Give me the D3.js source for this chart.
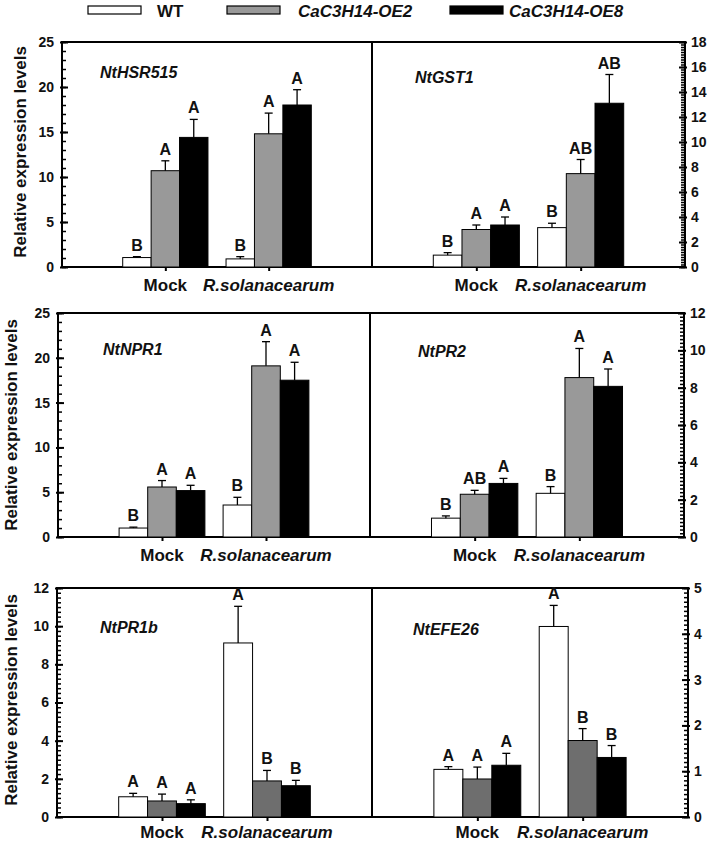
<!DOCTYPE html>
<html><head><meta charset="utf-8">
<script src="https://cdn.jsdelivr.net/npm/d3@7"></script>
<style>
body{margin:0;background:#fff}
text{font-family:Arial,"Liberation Sans",sans-serif;font-weight:bold;fill:#111}
</style>
</head><body><svg id="c" width="709" height="843"></svg>
<script>
// ---------- data ----------
const groups = ["Mock", "R.solanacearum"];
const seriesNames = ["WT", "CaC3H14-OE2", "CaC3H14-OE8"];
const genes = ["NtHSR515", "NtGST1", "NtNPR1", "NtPR2", "NtPR1b", "NtEFE26"];
// order inside each array: Mock WT, Mock OE2, Mock OE8, R WT, R OE2, R OE8
const hsr515Mean = [1.05, 10.7, 14.4, 0.9, 14.8, 18.0];
const hsr515Err  = [0.1, 1.1, 2.0, 0.25, 2.3, 1.7];
const hsr515Sig  = ["B", "A", "A", "B", "A", "A"];
const gst1Mean = [0.95, 3.0, 3.36, 3.15, 7.47, 13.1];
const gst1Err  = [0.2, 0.36, 0.64, 0.35, 1.13, 2.3];
const gst1Sig  = ["B", "A", "A", "B", "AB", "AB"];
const npr1Mean = [1.0, 5.58, 5.18, 3.57, 19.1, 17.5];
const npr1Err  = [0.1, 0.72, 0.59, 0.86, 2.7, 2.0];
const npr1Sig  = ["B", "A", "A", "B", "A", "A"];
const pr2Mean = [1.01, 2.29, 2.87, 2.34, 8.54, 8.07];
const pr2Err  = [0.12, 0.21, 0.27, 0.36, 1.56, 0.93];
const pr2Sig  = ["B", "AB", "A", "B", "A", "A"];
const pr1bMean = [1.06, 0.84, 0.70, 9.12, 1.89, 1.64];
const pr1bErr  = [0.18, 0.36, 0.2, 1.92, 0.55, 0.28];
const pr1bSig  = ["A", "A", "A", "A", "B", "B"];
const efe26Mean = [1.04, 0.83, 1.13, 4.16, 1.67, 1.30];
const efe26Err  = [0.06, 0.26, 0.26, 0.46, 0.26, 0.26];
const efe26Sig  = ["A", "A", "A", "A", "B", "B"];
// axis ticks
const ticks25 = [0, 5, 10, 15, 20, 25];
const ticks18 = [0, 2, 4, 6, 8, 10, 12, 14, 16, 18];
const ticks12 = [0, 2, 4, 6, 8, 10, 12];
const ticks5  = [0, 1, 2, 3, 4, 5];
const yTitle = "Relative expression levels";

// ---------- layout ----------
const svg = d3.select("#c");
const rows = [
  {top: 42, bottom: 267, left: 62, mid: 372, right: 685, titleX: 26, titleY: 152, oe2: "#999999", labDy: 24},
  {top: 313, bottom: 537, left: 58, mid: 370, right: 684, titleX: 17, titleY: 425, oe2: "#999999", labDy: 24},
  {top: 588, bottom: 817, left: 57, mid: 372, right: 688, titleX: 17, titleY: 700, oe2: "#6e6e6e", labDy: 21}
];
const panels = [
  {row: 0, side: "L", gene: genes[0], mean: hsr515Mean, err: hsr515Err, sig: hsr515Sig, max: 25, ticks: ticks25, minor: 1, lx: 100, ly: 78},
  {row: 0, side: "R", gene: genes[1], mean: gst1Mean, err: gst1Err, sig: gst1Sig, max: 18, ticks: ticks18, minor: 0.2, lx: 415, ly: 83},
  {row: 1, side: "L", gene: genes[2], mean: npr1Mean, err: npr1Err, sig: npr1Sig, max: 25, ticks: ticks25, minor: 1, lx: 103, ly: 355},
  {row: 1, side: "R", gene: genes[3], mean: pr2Mean, err: pr2Err, sig: pr2Sig, max: 12, ticks: ticks12, minor: 0.2, lx: 418, ly: 357},
  {row: 2, side: "L", gene: genes[4], mean: pr1bMean, err: pr1bErr, sig: pr1bSig, max: 12, ticks: ticks12, minor: 0.25, lx: 100, ly: 633},
  {row: 2, side: "R", gene: genes[5], mean: efe26Mean, err: efe26Err, sig: efe26Sig, max: 5, ticks: ticks5, minor: 0.1, lx: 413, ly: 635}
];

// ---------- legend ----------
const legendItems = [
  {name: seriesNames[0], fill: "#ffffff", bx: 88, tx: 157, italic: false},
  {name: seriesNames[1], fill: "#999999", bx: 227, tx: 298, italic: true},
  {name: seriesNames[2], fill: "#000000", bx: 450, tx: 509, italic: true}
];
const lg = svg.append("g");
legendItems.forEach(d => {
  lg.append("rect").attr("x", d.bx).attr("y", 6).attr("width", 53).attr("height", 8)
    .attr("fill", d.fill).attr("stroke", "#000").attr("stroke-width", 1.2);
  lg.append("text").attr("x", d.tx).attr("y", 17).attr("font-size", 17)
    .attr("font-style", d.italic ? "italic" : "normal").text(d.name);
});

// ---------- frames and titles ----------
rows.forEach(r => {
  svg.append("rect").attr("x", r.left).attr("y", r.top).attr("width", r.right - r.left)
    .attr("height", r.bottom - r.top).attr("fill", "none").attr("stroke", "#000").attr("stroke-width", 2);
  svg.append("line").attr("x1", r.mid).attr("x2", r.mid).attr("y1", r.top).attr("y2", r.bottom)
    .attr("stroke", "#000").attr("stroke-width", 2);
  svg.append("text").attr("transform", `translate(${r.titleX},${r.titleY}) rotate(-90)`)
    .attr("text-anchor", "middle").attr("font-size", 17).text(yTitle);
});

// ---------- panels ----------
panels.forEach(p => {
  const r = rows[p.row];
  const x0 = p.side === "L" ? r.left : r.mid;
  const x1 = p.side === "L" ? r.mid : r.right;
  const g = svg.append("g");
  const x = d3.scalePoint().domain(groups).range([x0, x1]).padding(1);
  const bw = x.step() * 0.275;
  const xs = d3.scaleBand().domain(seriesNames).range([-1.5 * bw, 1.5 * bw]);
  const y = d3.scaleLinear().domain([0, p.max]).range([r.bottom, r.top]);
  const colors = d3.scaleOrdinal().domain(seriesNames).range(["#ffffff", r.oe2, "#000000"]);

  const data = [];
  groups.forEach((gname, gi) => seriesNames.forEach((s, si) => {
    const k = gi * 3 + si;
    data.push({group: gname, series: s, v: p.mean[k], e: p.err[k], sig: p.sig[k]});
  }));

  // y axis
  const minorVals = d3.range(0, p.max + 1e-9, p.minor);
  const isLeft = p.side === "L";
  const ax = isLeft ? d3.axisLeft(y) : d3.axisRight(y);
  const axMinor = isLeft ? d3.axisLeft(y) : d3.axisRight(y);
  const axOut = isLeft ? d3.axisLeft(y) : d3.axisRight(y);
  const axisX = isLeft ? r.left : r.right;
  const gMinor = g.append("g").attr("transform", `translate(${axisX},0)`)
    .call(axMinor.tickValues(minorVals).tickSize(-4).tickSizeOuter(0).tickFormat(""));
  const gMajor = g.append("g").attr("transform", `translate(${axisX},0)`)
    .call(ax.tickValues(p.ticks).tickSize(-6).tickSizeOuter(0).tickPadding(isLeft ? 8 : 6).tickFormat(d3.format("d")));
  const gOut = g.append("g").attr("transform", `translate(${axisX},0)`)
    .call(axOut.tickValues(p.ticks).tickSize(2).tickSizeOuter(0).tickFormat(""));
  [gMinor, gMajor, gOut].forEach(a => {
    a.select(".domain").remove();
    a.selectAll(".tick line").attr("stroke", "#000").attr("stroke-width", 1.5);
  });
  gMajor.selectAll(".tick line").attr("stroke-width", 2);
  gOut.selectAll(".tick line").attr("stroke-width", 2);
  gMajor.selectAll(".tick text").attr("font-size", 14).attr("font-family", "Arial, 'Liberation Sans', sans-serif")
    .attr("font-weight", "bold").attr("fill", "#111");

  // x axis ticks and labels
  const gx = g.append("g").attr("transform", `translate(0,${r.bottom})`)
    .call(d3.axisBottom(x).tickSize(4).tickSizeOuter(0).tickFormat(""));
  gx.select(".domain").remove();
  gx.selectAll(".tick line").attr("stroke", "#000").attr("stroke-width", 2);
  groups.forEach(gname => {
    g.append("text").attr("x", x(gname)).attr("y", r.bottom + r.labDy).attr("text-anchor", "middle")
      .attr("font-size", 17).attr("font-style", gname === "Mock" ? "normal" : "italic").text(gname);
  });

  // bars
  g.selectAll("rect.bar").data(data).join("rect").attr("class", "bar")
    .attr("x", d => x(d.group) + xs(d.series)).attr("width", xs.bandwidth())
    .attr("y", d => y(d.v)).attr("height", d => y(0) - y(d.v))
    .attr("fill", d => colors(d.series)).attr("stroke", "#000").attr("stroke-width", 1);

  // error bars
  const cx = d => x(d.group) + xs(d.series) + xs.bandwidth() / 2;
  g.selectAll("line.err").data(data).join("line").attr("class", "err")
    .attr("x1", cx).attr("x2", cx).attr("y1", d => y(d.v)).attr("y2", d => y(d.v + d.e))
    .attr("stroke", "#000").attr("stroke-width", 1.3);
  g.selectAll("line.cap").data(data).join("line").attr("class", "cap")
    .attr("x1", d => cx(d) - 4).attr("x2", d => cx(d) + 4).attr("y1", d => y(d.v + d.e)).attr("y2", d => y(d.v + d.e))
    .attr("stroke", "#000").attr("stroke-width", 1.3);

  // significance letters
  g.selectAll("text.sig").data(data).join("text").attr("class", "sig")
    .attr("x", cx).attr("y", d => y(d.v + d.e) - 6).attr("text-anchor", "middle")
    .attr("font-size", 16).text(d => d.sig);

  // gene label
  g.append("text").attr("x", p.lx).attr("y", p.ly).attr("font-size", 16).attr("font-style", "italic").text(p.gene);
});
</script>
</body></html>
